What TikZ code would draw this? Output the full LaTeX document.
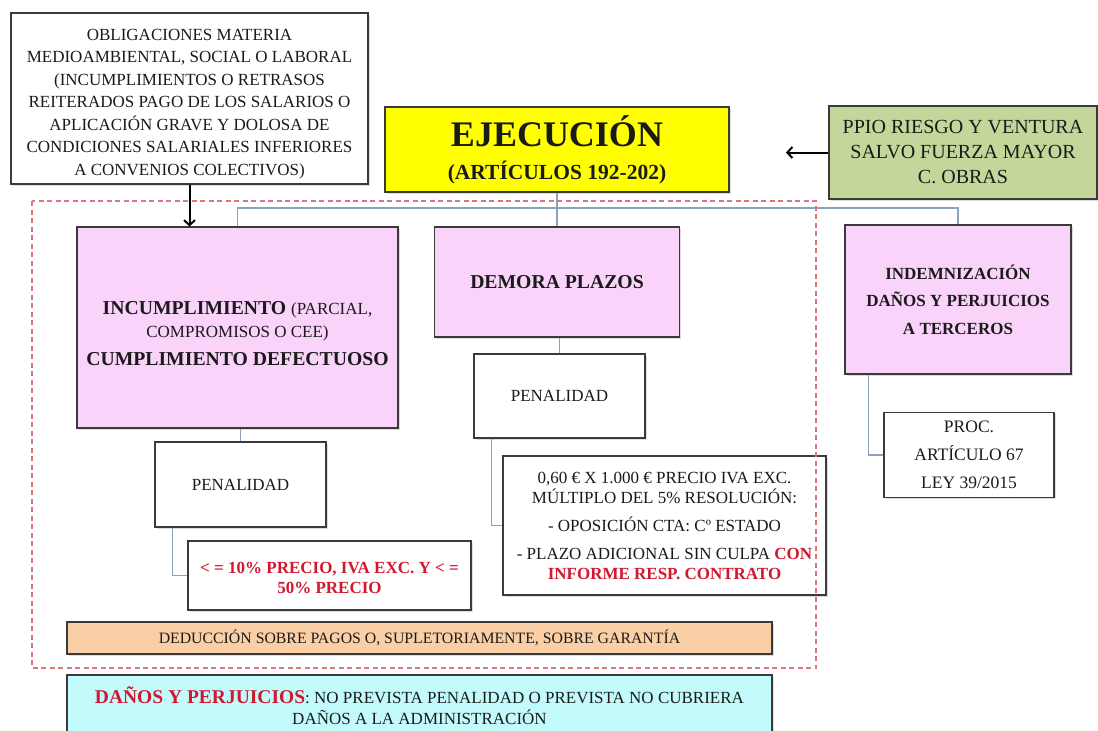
\documentclass[tikz,border=0pt]{standalone}
\usepackage{fontspec}
\setmainfont{Liberation Serif}
\usetikzlibrary{arrows.meta,shadows}
\definecolor{boxline}{HTML}{3A3A3A}
\definecolor{inktext}{HTML}{1A1A1A}
\definecolor{ejecfill}{HTML}{FFFF00}
\definecolor{riesgofill}{HTML}{C4D79B}
\definecolor{pinkfill}{HTML}{F9D3F9}
\definecolor{peachfill}{HTML}{FBCFA6}
\definecolor{cyanfill}{HTML}{C3FBFD}
\definecolor{redtext}{HTML}{D0182E}
\definecolor{linkblue}{HTML}{8AA2BC}
\definecolor{framered}{HTML}{E07580}
\tikzset{plainbox/.style={draw=boxline,line width=1.1pt,rectangle,align=center,inner sep=3pt,
        fill=white,text=inktext,drop shadow={shadow xshift=1.6pt,shadow yshift=-1.6pt,opacity=.28}},
    pinkbox/.style={plainbox,fill=pinkfill},
    midtext/.style={font=\fontsize{17}{22.5}\selectfont},
    titletext/.style={font=\fontsize{19.7}{26}\selectfont\bfseries},
    link/.style={draw=linkblue,line width=1.1pt},
    arrowline/.style={draw=black,line width=2pt,-{Straight Barb[length=5pt,width=11pt]}},
    redframe/.style={draw=framered,line width=1.5pt,dash pattern=on 5pt off 3.5pt}
}
\begin{document}
\begin{tikzpicture}[x=1pt,y=-1pt]
\useasboundingbox (0,0) rectangle (1098,731);

% top row
\node (oblig) at (189.5,98.5) [plainbox,midtext,minimum width=357pt,minimum height=171pt] {\rule{0pt}{22pt}OBLIGACIONES MATERIA\\ MEDIOAMBIENTAL, SOCIAL O LABORAL\\ (INCUMPLIMIENTOS O RETRASOS\\ REITERADOS PAGO DE LOS SALARIOS O\\ APLICACIÓN GRAVE Y DOLOSA DE\\ CONDICIONES SALARIALES INFERIORES\\ A CONVENIOS COLECTIVOS)};
\node (ejec) at (557,149.5) [plainbox,fill=ejecfill,minimum width=344pt,minimum height=85pt,font=\fontsize{21.5}{24}\selectfont\bfseries] {{\fontsize{36}{36}\selectfont EJECUCIÓN}\\[9pt] (ARTÍCULOS 192-202)};
\node (riesgo) at (963,152.5) [plainbox,fill=riesgofill,minimum width=268pt,minimum height=93pt,font=\fontsize{20}{25}\selectfont] {PPIO RIESGO Y VENTURA\\ SALVO FUERZA MAYOR\\ C. OBRAS};

% branches
\node (incum) at (237.5,327.5) [pinkbox,titletext,minimum width=321pt,minimum height=201pt] {\rule{0pt}{26pt}INCUMPLIMIENTO {\mdseries\fontsize{17}{22}\selectfont (PARCIAL,}\\[-3pt] {\mdseries\fontsize{17}{22}\selectfont COMPROMISOS O CEE)}\\[2pt] CUMPLIMIENTO DEFECTUOSO};
\node (demora) at (557,282) [pinkbox,titletext,minimum width=245pt,minimum height=110pt] {DEMORA PLAZOS};
\node (indem) at (958,299.5) [pinkbox,minimum width=226pt,minimum height=149pt,font=\fontsize{17}{27.5}\selectfont\bfseries] {INDEMNIZACIÓN\\ DAÑOS Y PERJUICIOS\\ A TERCEROS};

% penalties
\node (penal1) at (240.5,484.5) [plainbox,midtext,minimum width=171pt,minimum height=85pt] {PENALIDAD};
\node (res1) at (329.5,575.5) [plainbox,minimum width=283pt,minimum height=69pt,text=redtext,font=\fontsize{17}{19.5}\selectfont\bfseries] {\rule{0pt}{16pt}< = 10\% PRECIO, IVA EXC. Y < =\\ 50\% PRECIO};
\node (penal2) at (559.5,396) [plainbox,midtext,minimum width=171pt,minimum height=84pt] {PENALIDAD};
\node (res2) at (664.5,525.5) [plainbox,minimum width=323pt,minimum height=139pt,font=\fontsize{17}{20}\selectfont] {0,60 € X 1.000 € PRECIO IVA EXC.\\ MÚLTIPLO DEL 5\% RESOLUCIÓN:\\[8pt] - OPOSICIÓN CTA: Cº ESTADO\\[8pt] - PLAZO ADICIONAL SIN CULPA {\color{redtext}\bfseries CON}\\ {\color{redtext}\bfseries INFORME RESP. CONTRATO}};
\node (proc) at (969,455) [plainbox,minimum width=170pt,minimum height=85pt,font=\fontsize{17.5}{28}\selectfont] {PROC.\\ ARTÍCULO 67\\ LEY 39/2015};

% bottom bars
\node (deduc) at (419.5,638) [plainbox,fill=peachfill,minimum width=705pt,minimum height=32pt,font=\fontsize{15.8}{18}\selectfont] {DEDUCCIÓN SOBRE PAGOS O, SUPLETORIAMENTE, SOBRE GARANTÍA};
\node (danos) at (419.5,706) [plainbox,fill=cyanfill,minimum width=705pt,minimum height=62pt,font=\fontsize{17}{21}\selectfont] {{\color{redtext}\bfseries\fontsize{19.5}{21}\selectfont DAÑOS Y PERJUICIOS}: NO PREVISTA PENALIDAD O PREVISTA NO CUBRIERA\\ DAÑOS A LA ADMINISTRACIÓN};

% connectors
\coordinate (bus) at (557,208);
\draw [link] (ejec.south) -- (bus);
\draw [link] (incum.north) |- (bus) -| (indem.north);
\draw [link] (bus) -- (demora.north);
\draw [link] (penal1.north |- incum.south) -- (penal1.north);
\draw [link] (penal2.north |- demora.south) -- (penal2.north);
\draw [link] ([xshift=18pt]penal1.south west) |- (res1.west);
\draw [link] ([xshift=18pt]penal2.south west) |- (res2.west);
\draw [link] ([xshift=24pt]indem.south west) |- (proc.west);

\draw [arrowline] (oblig.south) -- (oblig.south |- incum.north);
\coordinate (riesgotip) at (786,152.5);
\draw [arrowline] (riesgo.west) -- (riesgotip);

% penalty area
\draw [redframe] (32,201) rectangle (816,668);

\end{tikzpicture}
\end{document}
